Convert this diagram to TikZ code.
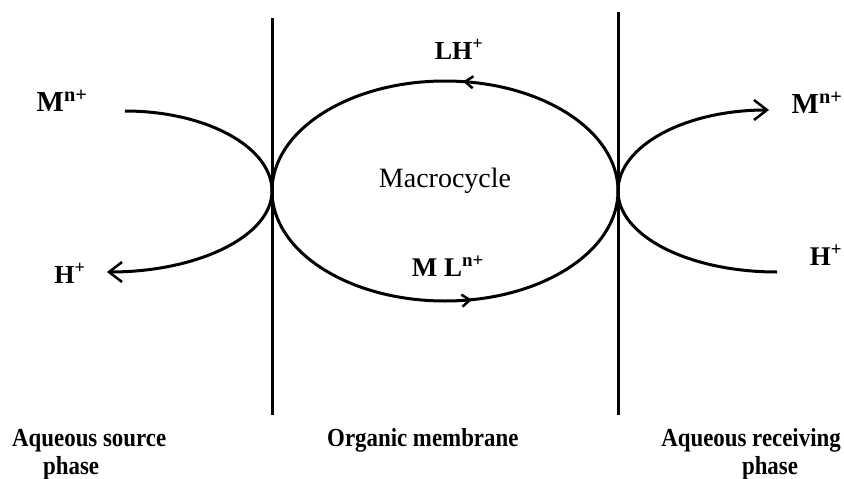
\documentclass[tikz,border=0pt]{standalone}
\usepackage{fontspec}
\setmainfont{Liberation Serif}
\newfontface\captionface{Liberation Serif Bold}[FakeStretch=0.88]
\usetikzlibrary{arrows.meta,decorations.markings}

\begin{document}
\begin{tikzpicture}[x=1pt,y=-1pt,
  wall/.style={line width=3pt},
  curve/.style={line width=3pt},
  endbarb/.style={-{Straight Barb[length=13pt,width=20pt,line width=2.5pt]}},
  midbarb/.style={postaction=decorate,decoration={markings,
      mark=at position #1 with {\arrow{Straight Barb[length=8pt,width=12pt,line width=2.5pt]}}}},
  ion/.style={font=\fontsize{#1}{#1}\bfseries\selectfont,inner sep=0pt,anchor=base},
  phaselabel/.style={font=\fontsize{26}{28}\captionface,inner sep=0pt},
  ring/.style={font=\fontsize{28}{30}\selectfont,inner sep=0pt,anchor=base}]

  % page
  \useasboundingbox[fill=white] (0,0) rectangle (844,479);

  % membrane walls
  \coordinate (lwtop) at (272,18);
  \coordinate (lwbot) at (272,415);
  \coordinate (rwtop) at (618,12);
  \coordinate (rwbot) at (618,415);
  \draw[wall] (lwtop) -- (lwbot);
  \draw[wall] (rwtop) -- (rwbot);

  % points where the carrier meets the interfaces
  \coordinate (lt) at (272,191);
  \coordinate (rt) at (618,191);

  % ion labels
  \node[ion=29] (mleft)  at (62,111)  {M\textsuperscript{n+}};
  \node[ion=26] (hleft)  at (70,283)  {H\textsuperscript{+}};
  \node[ion=29] (mright) at (817,113) {M\textsuperscript{n+}};
  \node[ion=27] (hright) at (826,265) {H\textsuperscript{+}};
  \node[ion=26] (lh)     at (459,59)  {LH\textsuperscript{+}};
  \node[ion=27] (ml)     at (448,276) {M L\textsuperscript{n+}};
  \node[ring] (mc)       at (445,187) {Macrocycle};

  % free ends of the ion paths
  \coordinate (minA) at (125,111);
  \coordinate (hout) at (107,272);
  \coordinate (mout) at (769,110);
  \coordinate (hin)  at (777,272);

  % source side
  \draw[curve] (minA) .. controls (206,111) and (272,147) .. (lt);
  \draw[curve,endbarb] (lt) .. controls (272,236) and (198,272) .. (hout);

  % receiving side
  \draw[curve,endbarb] (rt) .. controls (618,146) and (685,110) .. (mout);
  \draw[curve] (hin) .. controls (689,272) and (618,236) .. (rt);

  % carrier cycle in the membrane
  \draw[curve,midbarb=0.46] (rt) arc[start angle=0,end angle=-180,x radius=173,y radius=110];
  \draw[curve,midbarb=0.56] (lt) arc[start angle=180,end angle=0,x radius=173,y radius=110];

  % phase captions
  \node[phaselabel,anchor=base west] (src1) at (12,446)  {Aqueous source};
  \node[phaselabel,anchor=base west] (src2) at (43,474)  {phase};
  \node[phaselabel,anchor=base west] (org)  at (327,446) {Organic membrane};
  \node[phaselabel,anchor=base east] (rec1) at (841,446) {Aqueous receiving};
  \node[phaselabel,anchor=base]      (rec2) at (770,474) {phase};
\end{tikzpicture}
\end{document}
